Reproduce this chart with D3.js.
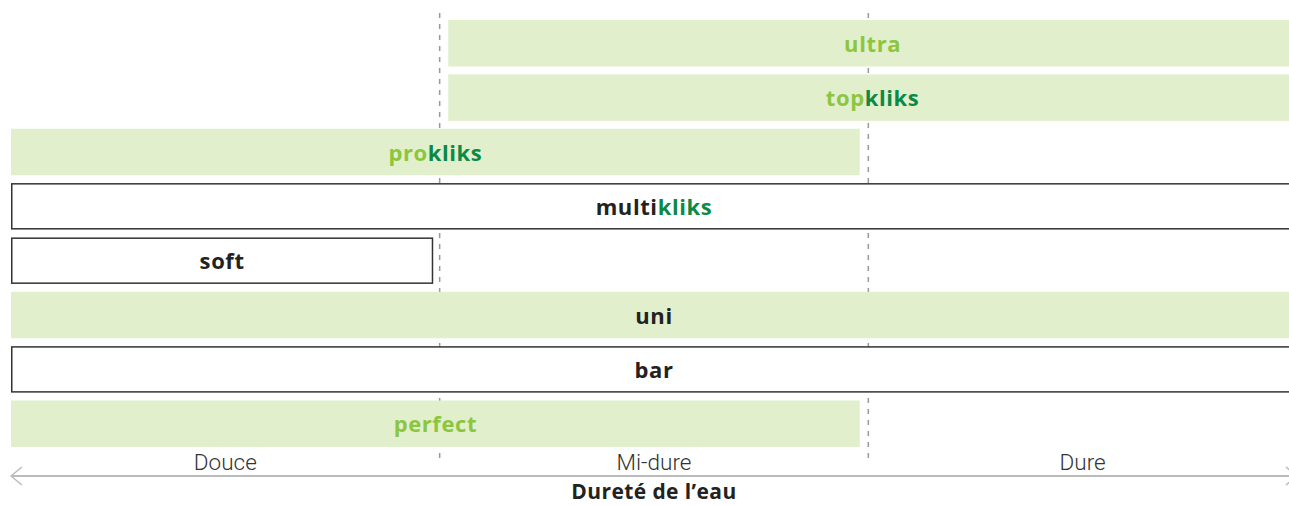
<!DOCTYPE html>
<html>
<head>
<meta charset="utf-8">
<script src="https://cdn.jsdelivr.net/npm/d3@7"></script>
<style>
  html, body { margin: 0; padding: 0; background: #fff; overflow: hidden; }
</style>
</head>
<body>
<div id="chart"></div>
<script>
// Produits (de haut en bas)
const products = ["ultra", "topkliks", "prokliks", "multikliks", "soft", "uni", "bar", "perfect"];
// Libellé en deux parties : préfixe + "kliks"
const prefixes = ["ultra", "top", "pro", "multi", "soft", "uni", "bar", "perfect"];
const suffixes = ["", "kliks", "kliks", "kliks", "", "", "", ""];
// Plage de dureté couverte (0 = début Douce, 1 = Mi-dure, 2 = Dure, 3 = fin)
const rangeStart = [1.02, 1.02, 0, 0, 0, 0, 0, 0];
const rangeEnd   = [3, 3, 1.98, 3, 0.985, 3, 3, 1.98];
// Barre remplie (vert clair) ou simple contour
const filled     = [true, true, true, false, false, true, false, true];
// Préfixe en vert clair ou en noir
const greenName  = [true, true, true, false, false, false, false, true];
// Zones de dureté
const zones = ["Douce", "Mi-dure", "Dure"];
const axisTitle = "Dureté de l’eau";

const W = 1289, H = 505;
const lightGreen = "#8cc63f", darkGreen = "#0b8a47", dark = "#222";

const svg = d3.select("#chart").append("svg")
  .attr("width", W).attr("height", H)
  .style("font-family", "'Open Sans', sans-serif");

const x = d3.scaleLinear().domain([0, 3]).range([11, 1297]);
const y = d3.scaleBand().domain(products).range([20, 447]).paddingInner(0.145);

// Séparateurs pointillés entre zones
svg.selectAll(".sep")
  .data([1, 2])
  .enter().append("line")
  .attr("x1", d => x(d)).attr("x2", d => x(d))
  .attr("y1", 13).attr("y2", 463)
  .attr("stroke", "#999")
  .attr("stroke-width", 1.5)
  .attr("stroke-dasharray", "5,6");

const rows = products.map((p, i) => ({
  name: p, pre: prefixes[i], suf: suffixes[i],
  s: rangeStart[i], e: rangeEnd[i], fill: filled[i], green: greenName[i]
}));

// Barres
svg.selectAll(".bar")
  .data(rows)
  .enter().append("rect")
  .attr("x", d => x(d.s) + (d.fill ? 0 : 0.75))
  .attr("y", d => y(d.name) + (d.fill ? 0 : 0.75))
  .attr("width", d => x(d.e) - x(d.s) - (d.fill ? 0 : 1.5))
  .attr("height", d => y.bandwidth() - (d.fill ? 0 : 1.5))
  .attr("fill", d => d.fill ? "#e2efcc" : "#fff")
  .attr("stroke", d => d.fill ? "none" : "#333")
  .attr("stroke-width", 1.5);

// Libellés
const labels = svg.selectAll(".lbl")
  .data(rows)
  .enter().append("text")
  .attr("x", d => (x(d.s) + x(d.e)) / 2)
  .attr("y", d => y(d.name) + y.bandwidth() / 2 + 1)
  .attr("dy", "0.35em")
  .attr("text-anchor", "middle")
  .style("font-size", "22px")
  .style("letter-spacing", "0.6px")
  .style("font-weight", "bold");

labels.append("tspan")
  .attr("fill", d => d.green ? lightGreen : dark)
  .text(d => d.pre);
labels.append("tspan")
  .attr("fill", darkGreen)
  .text(d => d.suf);

// Axe avec flèches
const axisY = 476;
svg.append("line")
  .attr("x1", x(0)).attr("x2", x(3))
  .attr("y1", axisY).attr("y2", axisY)
  .attr("stroke", "#bbb").attr("stroke-width", 2);
svg.append("path")
  .attr("d", `M${x(0) + 11},${axisY - 9}L${x(0)},${axisY}L${x(0) + 11},${axisY + 9}`)
  .attr("fill", "none").attr("stroke", "#bbb").attr("stroke-width", 1.5);
svg.append("path")
  .attr("d", `M${x(3) - 11},${axisY - 9}L${x(3)},${axisY}L${x(3) - 11},${axisY + 9}`)
  .attr("fill", "none").attr("stroke", "#bbb").attr("stroke-width", 1.5);

// Noms des zones
svg.selectAll(".zone")
  .data(zones)
  .enter().append("text")
  .attr("x", (d, i) => (x(i) + x(i + 1)) / 2)
  .attr("y", 470)
  .attr("text-anchor", "middle")
  .style("font-family", "Roboto, sans-serif")
  .style("font-weight", 300)
  .style("font-size", "22.5px")
  .attr("fill", "#333")
  .text(d => d);

// Titre de l'axe
svg.append("text")
  .attr("x", x(1.5))
  .attr("y", 499)
  .attr("text-anchor", "middle")
  .style("font-size", "21px")
  .style("letter-spacing", "0.4px")
  .style("font-weight", "bold")
  .attr("fill", dark)
  .text(axisTitle);
</script>
</body>
</html>
